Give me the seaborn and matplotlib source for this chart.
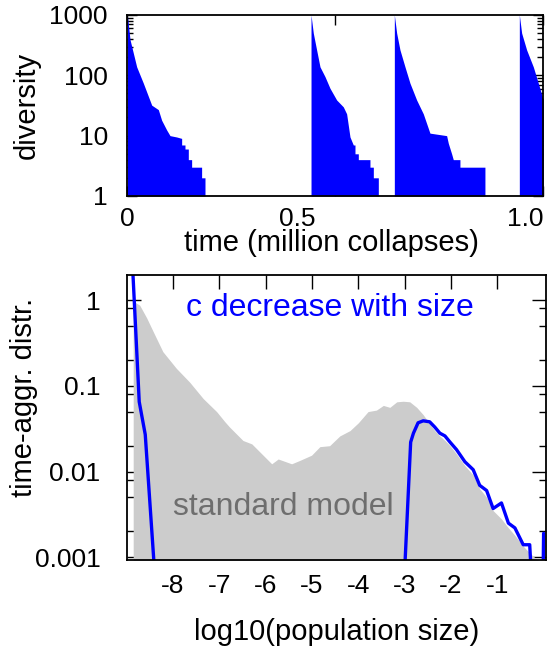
import numpy as np
import matplotlib
matplotlib.use("Agg")
import matplotlib.pyplot as plt
import matplotlib.transforms as mtransforms
from matplotlib.ticker import LogLocator, NullFormatter
import seaborn as sns
import pandas as pd

# --- top panel: diversity over time, four collapse episodes ---
ep1_time = [0.0, 0.0, 0.0065, 0.0225, 0.0385, 0.0586, 0.0745, 0.0825, 0.0946, 0.1026, 0.1186, 0.1306,
            0.1306, 0.1386, 0.1386, 0.1466, 0.1466, 0.1546, 0.1546, 0.1786, 0.1786, 0.1867, 0.1867]
ep1_div = [1, 1000, 390, 138, 74, 32, 27, 18, 12.4, 10, 9.5, 9,
           7, 7, 6, 6, 4, 4, 3, 3, 2, 2, 1]
ep2_time = [0.4416, 0.4416, 0.4471, 0.4551, 0.4632, 0.4752, 0.4872, 0.5032, 0.5192, 0.5272, 0.5353,
            0.5433, 0.5473, 0.5473, 0.5553, 0.5553, 0.5833, 0.5833, 0.5914, 0.5914, 0.6034, 0.6034]
ep2_div = [1, 1000, 500, 263, 138, 95, 61, 39, 30, 23, 9.5,
           7, 7, 5, 5, 4, 4, 3, 3, 2, 2, 1]
ep3_time = [0.6419, 0.6419, 0.6475, 0.6555, 0.6675, 0.6795, 0.6955, 0.7115, 0.7275, 0.7676, 0.7716,
            0.7796, 0.7836, 0.7996, 0.7996, 0.8597, 0.8597]
ep3_div = [1, 1000, 500, 263, 138, 74, 39, 23, 11, 10, 7.5,
           5, 4, 4, 3, 3, 1]
ep4_time = [0.9424, 0.9424, 0.948, 0.960, 0.976, 0.988, 1.0]
ep4_div = [1, 1000, 500, 263, 138, 74, 39]

# --- bottom panel: time-aggregated distribution ---
std_logsize = [-8.86, -8.83, -8.72, -8.57, -8.43, -8.22, -7.93, -7.64, -7.35, -7.06, -6.88, -6.78,
               -6.49, -6.30, -6.13, -5.87, -5.73, -5.44, -5.26, -5.01, -4.83, -4.62, -4.40, -4.18,
               -4.00, -3.79, -3.61, -3.46, -3.32, -3.17, -3.03, -2.89, -2.74, -2.60, -2.46, -2.35,
               -2.24, -2.13, -2.02, -1.88, -1.70, -1.52, -1.38, -1.23, -1.09, -0.91, -0.76, -0.62,
               -0.44, -0.30, -0.15, -0.05]
std_distr = [0.95, 0.95, 0.87, 0.62, 0.43, 0.25, 0.16, 0.11, 0.071, 0.050, 0.038, 0.033,
             0.023, 0.021, 0.017, 0.0123, 0.014, 0.0123, 0.0135, 0.0155, 0.0195, 0.020, 0.026, 0.030,
             0.037, 0.050, 0.052, 0.059, 0.056, 0.065, 0.066, 0.065, 0.056, 0.046, 0.036, 0.030,
             0.026, 0.023, 0.020, 0.016, 0.0117, 0.0091, 0.0063, 0.0050, 0.0035, 0.0028, 0.0022, 0.0018,
             0.00135, 0.00112, 0.00095, 0.00089]

cdec_logsize = [-8.88, -8.73, -8.60, -8.40, -3.00, -2.87, -2.81, -2.71, -2.60, -2.46, -2.35, -2.24,
                -2.13, -2.02, -1.88, -1.70, -1.52, -1.38, -1.23, -1.09, -0.91, -0.76, -0.62, -0.44,
                -0.30, -0.27, -0.01, 0.00]
cdec_distr = [2.9, 0.065, 0.027, 0.0007, 0.0007, 0.022, 0.028, 0.037, 0.039, 0.038, 0.033, 0.028,
              0.026, 0.022, 0.018, 0.013, 0.0105, 0.0069, 0.0060, 0.0037, 0.0043, 0.0025, 0.0022, 0.0014,
              0.0014, 0.0007, 0.0007, 0.0019]

xtick_vals = [-8, -7, -6, -5, -4, -3, -2, -1]

sns.set_theme(style="ticks")
plt.rcParams["font.family"] = ["Liberation Sans", "DejaVu Sans"]
plt.rcParams["axes.unicode_minus"] = False
plt.rcParams["axes.labelcolor"] = "black"
plt.rcParams["text.color"] = "black"

fig = plt.figure(figsize=(5.57, 6.5), dpi=100)
ax1 = fig.add_axes([0.2286, 0.6985, 0.7468, 0.2785])
ax2 = fig.add_axes([0.2275, 0.1385, 0.7522, 0.4385])

# top panel
for t, d in [(ep1_time, ep1_div), (ep2_time, ep2_div), (ep3_time, ep3_div), (ep4_time, ep4_div)]:
    ax1.fill_between(t, 1, d, color="#0000ff", linewidth=0, zorder=3)
ax1.set_yscale("log")
ax1.set_xlim(0, 1.0)
ax1.set_ylim(1, 1000)
ax1.set_yticks([1, 10, 100, 1000], ["1", "10", "100", "1000"])
ax1.yaxis.set_minor_locator(LogLocator(base=10, subs=np.arange(2, 10)))
ax1.yaxis.set_minor_formatter(NullFormatter())
ax1.set_xticks([0, 0.5, 1.0], ["0", "0.5", "1.0"])
ax1.tick_params(which="both", direction="in", top=True, right=True, labelsize=19,
                width=1.0, colors="black")
ax1.tick_params(which="major", length=7.5)
ax1.tick_params(which="minor", length=4)
ax1.tick_params(axis="y", pad=14)
ax1.tick_params(axis="x", pad=8)
labs = ax1.get_xticklabels()
labs[1].set_transform(labs[1].get_transform() + mtransforms.ScaledTranslation(-0.38, 0, fig.dpi_scale_trans))
labs[2].set_horizontalalignment("right")
ax1.set_xlabel("time (million collapses)", fontsize=21, color="black")
ax1.set_ylabel("diversity", fontsize=21, color="black")
ax1.xaxis.set_label_coords(0.49, -0.185)
ax1.yaxis.set_label_coords(-0.208, 0.5)

# bottom panel
ax2.fill_between(std_logsize, 1e-5, std_distr, color="#cccccc", linewidth=0, zorder=3)
df_c = pd.DataFrame({"logsize": cdec_logsize, "distr": cdec_distr})
sns.lineplot(data=df_c, x="logsize", y="distr", ax=ax2, color="#0000ff", linewidth=2.4,
             sort=False, estimator=None, zorder=4)
ax2.set_yscale("log")
ax2.set_xlim(-9.0, 0.045)
ax2.set_ylim(0.00093, 1.96)
ax2.set_xticks(xtick_vals, [str(v) for v in xtick_vals])
ax2.set_yticks([0.001, 0.01, 0.1, 1], ["0.001", "0.01", "0.1", "1"])
ax2.yaxis.set_minor_locator(LogLocator(base=10, subs=[2, 5, 8]))
ax2.yaxis.set_minor_formatter(NullFormatter())
ax2.tick_params(which="both", direction="in", top=True, right=True, labelsize=19,
                width=1.0, colors="black")
ax2.tick_params(which="major", length=10)
ax2.tick_params(which="minor", length=5)
ax2.tick_params(axis="y", pad=19)
ax2.tick_params(axis="x", pad=10)
ax2.set_xlabel("log10(population size)", fontsize=21, color="black")
ax2.set_ylabel("time-aggr. distr.", fontsize=21, color="black")
ax2.xaxis.set_label_coords(0.5, -0.205)
ax2.yaxis.set_label_coords(-0.212, 0.57)
ax2.text(0.485, 0.884, "c decrease with size", transform=ax2.transAxes, color="#0000ff",
         fontsize=23, ha="center", va="center", zorder=6)
ax2.text(0.373, 0.185, "standard model", transform=ax2.transAxes, color="#6e6e6e",
         fontsize=23, ha="center", va="center", zorder=6)

for ax in (ax1, ax2):
    for sp in ax.spines.values():
        sp.set_linewidth(1.3)
        sp.set_color("black")
        sp.set_zorder(5)
        sp.set_visible(True)

fig.savefig("out.png", dpi=100)
